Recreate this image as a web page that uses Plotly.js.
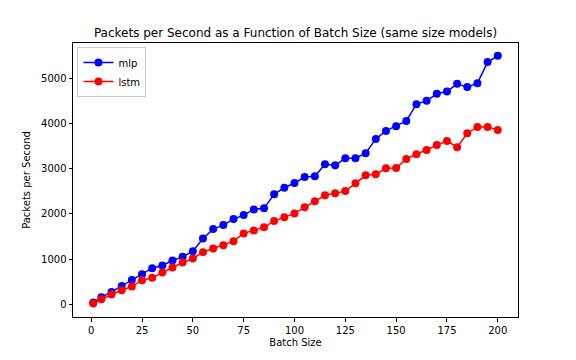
<!DOCTYPE html>
<html>
<head>
<meta charset="utf-8">
<script src="https://cdn.plot.ly/plotly-3.0.1.min.js"></script>
<style>html,body{margin:0;padding:0;background:#fff;}#chart{width:576px;height:360px;}</style>
</head>
<body>
<div id="chart"></div>
<script>
const batchSizes = [1, 5, 10, 15, 20, 25, 30, 35, 40, 45, 50, 55, 60, 65, 70, 75, 80, 85, 90, 95, 100,
  105, 110, 115, 120, 125, 130, 135, 140, 145, 150, 155, 160, 165, 170, 175, 180, 185, 190, 195, 200];
const mlpValues = [44, 161, 279, 412, 544, 670, 803, 862, 973, 1053, 1179, 1460, 1666, 1754, 1887, 1975, 2101, 2124, 2434, 2580, 2684,
  2816, 2832, 3097, 3075, 3230, 3230, 3341, 3657, 3834, 3938, 4055, 4425, 4498, 4653, 4704, 4874, 4801, 4889, 5354, 5493];
const lstmValues = [22, 117, 221, 317, 398, 538, 589, 707, 818, 929, 1017, 1157, 1239, 1312, 1400, 1571, 1637, 1704, 1843, 1925, 2013,
  2146, 2279, 2412, 2455, 2507, 2677, 2854, 2876, 3009, 3016, 3215, 3318, 3414, 3524, 3613, 3473, 3783, 3923, 3923, 3856];

const font = "DejaVu Sans, sans-serif";
const traces = [
  {x: batchSizes, y: mlpValues, name: 'mlp', mode: 'lines+markers',
   line: {color: '#0000ff', width: 1.5}, marker: {color: '#0000ff', size: 8}},
  {x: batchSizes, y: lstmValues, name: 'lstm', mode: 'lines+markers',
   line: {color: '#ff0000', width: 1.5}, marker: {color: '#ff0000', size: 8}}
];
const axisCommon = {
  showline: true, mirror: true, linecolor: '#000', linewidth: 1,
  ticks: 'outside', ticklen: 3.5, tickwidth: 1, tickcolor: '#000',
  showgrid: false, zeroline: false,
  tickfont: {family: font, size: 10, color: '#000'}
};
const layout = {
  width: 576, height: 360,
  margin: {l: 73, r: 58, t: 43, b: 43},
  paper_bgcolor: '#fff', plot_bgcolor: '#fff',
  font: {family: font, color: '#000'},
  title: {text: 'Packets per Second as a Function of Batch Size (same size models)',
          font: {family: font, size: 12, color: '#000'},
          x: 0.513, xanchor: 'center', y: 0.91, yanchor: 'middle'},
  xaxis: Object.assign({}, axisCommon, {
    range: [-8.95, 209.95], tickvals: [0, 25, 50, 75, 100, 125, 150, 175, 200],
    title: {text: 'Batch Size', font: {family: font, size: 10, color: '#000'}, standoff: 4}
  }),
  yaxis: Object.assign({}, axisCommon, {
    range: [-275, 5775], tickvals: [0, 1000, 2000, 3000, 4000, 5000],
    title: {text: 'Packets per Second', font: {family: font, size: 10, color: '#000'}, standoff: 8}
  }),
  legend: {x: 0.01, y: 0.985, xanchor: 'left', yanchor: 'top',
    bgcolor: 'rgba(255,255,255,0.8)', bordercolor: '#cccccc', borderwidth: 1,
    font: {family: font, size: 10, color: '#000'}, tracegroupgap: 0},
  showlegend: true
};
Plotly.newPlot('chart', traces, layout, {displayModeBar: false, staticPlot: true});
</script>
</body>
</html>
